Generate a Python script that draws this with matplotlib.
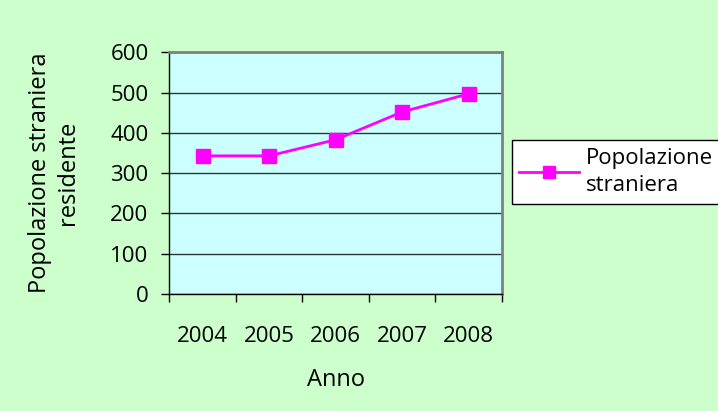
import matplotlib
matplotlib.use("Agg")
import matplotlib.pyplot as plt
from matplotlib.lines import Line2D

years = ["2004", "2005", "2006", "2007", "2008"]
popolazione = [343, 343, 383, 452, 497]
y_ticks = [0, 100, 200, 300, 400, 500, 600]

plt.rcParams['font.family'] = ['Open Sans', 'DejaVu Sans']

fig = plt.figure(figsize=(7.18, 4.11), dpi=100, facecolor="#CCFFCC")
ax = fig.add_axes([0.236, 0.2847, 0.463, 0.588])
ax.set_facecolor("#CCFFFF")

x = list(range(len(years)))
ax.plot(x, popolazione, color="#FF00FF", lw=2, marker="s", markersize=10,
        markerfacecolor="#FF00FF", markeredgecolor="#FF00FF")

ax.set_xlim(-0.5, len(years) - 0.5)
ax.set_ylim(0, 600)
ax.set_yticks(y_ticks)
ax.set_yticklabels([str(v) for v in y_ticks], fontsize=16)
ax.set_xticks([i - 0.5 for i in range(len(years) + 1)])
ax.set_xticklabels([])
ax.set_xticks(x, minor=True)
ax.set_xticklabels(years, minor=True, fontsize=16)
ax.tick_params(axis="x", which="minor", length=0, pad=23)
ax.tick_params(axis="x", which="major", length=6, width=1, color="black", direction="out")
ax.tick_params(axis="y", length=6, width=1, color="black", direction="out", pad=9)

ax.grid(axis="y", color="#333333", lw=1)
ax.set_axisbelow(True)
for s in ["top", "right"]:
    ax.spines[s].set_color("#808080")
    ax.spines[s].set_linewidth(2)
for s in ["left", "bottom"]:
    ax.spines[s].set_color("black")
    ax.spines[s].set_linewidth(1)

ax.set_xlabel("Anno", fontsize=17, labelpad=15)
ax.set_ylabel("Popolazione straniera\nresidente", fontsize=17, labelpad=22, linespacing=1.2)

leg = fig.legend(handles=[Line2D([0], [0], color="#FF00FF", lw=2, marker="s", markersize=8)],
                 labels=["Popolazione\nstraniera"], loc="upper left",
                 bbox_to_anchor=(511.5 / 718, 1 - 140 / 411), borderaxespad=0, fontsize=16,
                 frameon=True, fancybox=False, edgecolor="black", facecolor="white",
                 framealpha=1, handlelength=2.7, borderpad=0.35, handletextpad=0.3,
                 labelspacing=0.2)
for t in leg.get_texts():
    t.set_linespacing(1.4)
leg.get_frame().set_linewidth(1)

fig.savefig("out.png", dpi=100, facecolor=fig.get_facecolor())
